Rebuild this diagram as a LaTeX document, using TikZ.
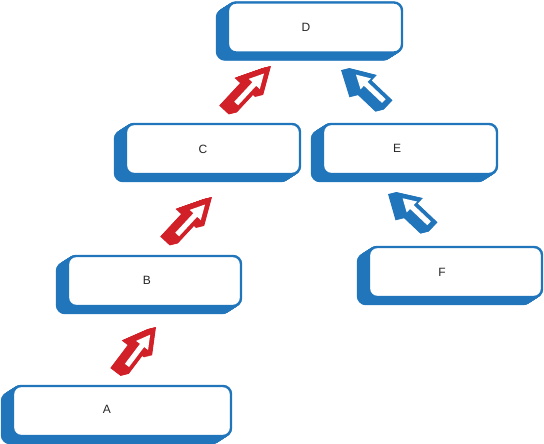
\documentclass[tikz,border=0pt]{standalone}
\usepackage{fontspec}
\setmainfont{Liberation Sans}
\usetikzlibrary{calc, positioning}

\definecolor{boxblue}{RGB}{33,118,187}
\definecolor{arrowred}{RGB}{210,32,40}

\tikzset{
  box/.style={draw=boxblue, line width=2.4pt, fill=white, rounded corners=8pt, minimum height=50pt, inner sep=0pt},
  boxtext/.style={font=\fontsize{12}{14}\selectfont, text=black!85, inner sep=0pt},
  arrowbody/.pic={\fill (0,-6.5) -- (30,-6.5) -- (30,-14) -- (56,0) -- (30,14) -- (30,6.5) -- (0,6.5) -- cycle;},
  arrowface/.pic={\fill[white] (6,-2.6) -- (32,-2.6) -- (32,-7.5) -- (46,0) -- (32,7.5) -- (32,2.6) -- (6,2.6) -- cycle;}
}

\begin{document}
\begin{tikzpicture}[x=1pt, y=-1pt]
\useasboundingbox (0,0) rectangle (544,444);

%% boxes with their blue side
\foreach \name/\cx/\cy/\w/\tx/\ty in {
    D/315/27.5/174/306/27, C/213/149/174/203/149, E/410/149/174/397/148,
    B/154.5/281/173/147/280, F/455.5/272/173/442/272, A/122/411/218/107/409}{
  \foreach \k in {0.5,1,...,11}
    \filldraw[boxblue, line width=2.4pt, rounded corners=8pt]
      (\cx-\w/2-\k, \cy-25+0.64*\k) rectangle +(\w, 50);
  \node[box, minimum width=\w pt] (\name) at (\cx,\cy) {};
  \node[boxtext] (\name-label) at (\tx,\ty) {\name};
}

%% block arrows
\coordinate (ab-tail) at (123.5,370);
\coordinate (ab-tip) at (156,327);
\coordinate (bc-tail) at (173,239);
\coordinate (bc-tip) at (212,197);
\coordinate (cd-tail) at (232,108);
\coordinate (cd-tip) at (271,66);
\coordinate (ed-tail) at (388,105);
\coordinate (ed-tip) at (349,68);
\coordinate (fe-tail) at (433,227);
\coordinate (fe-tip) at (396,192);

\foreach \from/\to/\col in {ab-tail/ab-tip/arrowred, bc-tail/bc-tip/arrowred,
    cd-tail/cd-tip/arrowred, ed-tail/ed-tip/boxblue, fe-tail/fe-tip/boxblue}{
  \path let \p1=($(\to)-(\from)$) in \pgfextra{%
    \pgfmathsetmacro\arrsc{veclen(\x1,\y1)/56}%
    \pgfmathsetmacro\arrang{atan2(\y1,\x1)}%
    \global\let\arrsc\arrsc \global\let\arrang\arrang};
  \foreach \k in {0,0.5,...,8}
    \pic[color=\col, xshift=-\k pt, yshift=-0.25*\k pt, rotate=\arrang, xscale=\arrsc] at (\from) {arrowbody};
  \pic[rotate=\arrang, xscale=\arrsc] at (\from) {arrowface};
}

\end{tikzpicture}
\end{document}
